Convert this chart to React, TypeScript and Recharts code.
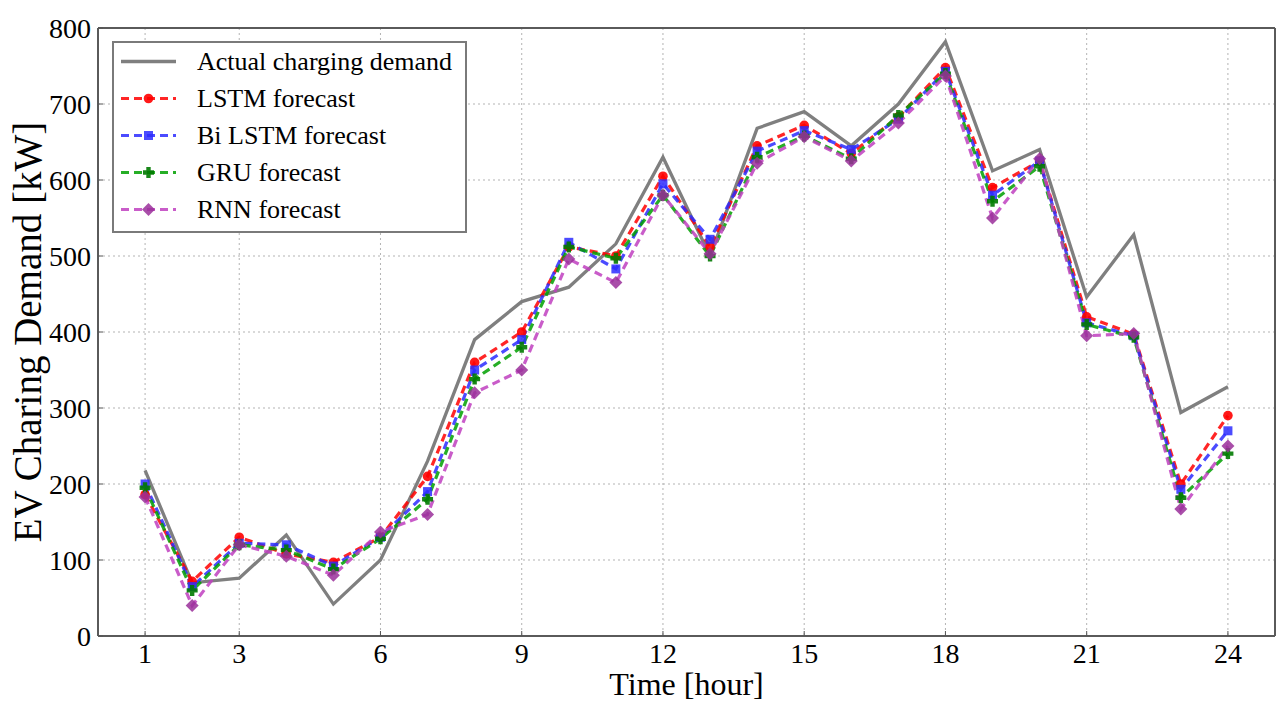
import { LineChart, Line, XAxis, YAxis, CartesianGrid, Legend, ReferenceLine } from 'recharts';

const hours = [1, 2, 3, 4, 5, 6, 7, 8, 9, 10, 11, 12, 13, 14, 15, 16, 17, 18, 19, 20, 21, 22, 23, 24];
const actual = [218, 70, 76, 133, 42, 100, 230, 390, 440, 459, 516, 630, 500, 668, 690, 645, 700, 782, 612, 640, 446, 528, 294, 328];
const lstm = [186, 72, 130, 108, 97, 130, 210, 360, 400, 512, 500, 605, 512, 645, 672, 635, 683, 748, 590, 625, 420, 397, 200, 290];
const biLstm = [200, 65, 122, 120, 92, 130, 190, 350, 390, 518, 483, 595, 522, 638, 665, 640, 680, 743, 580, 625, 412, 395, 193, 270];
const gru = [195, 60, 120, 113, 88, 128, 180, 338, 380, 512, 497, 580, 500, 630, 658, 628, 685, 740, 572, 618, 410, 393, 182, 240];
const rnn = [183, 40, 120, 105, 80, 137, 160, 320, 350, 496, 465, 580, 503, 622, 657, 625, 675, 737, 550, 628, 395, 398, 167, 250];

const xTicks = [1, 3, 6, 9, 12, 15, 18, 21, 24];
const yTicks = [0, 100, 200, 300, 400, 500, 600, 700, 800];

const data = hours.map((hour, i) => ({
  hour,
  actual: actual[i],
  lstm: lstm[i],
  bilstm: biLstm[i],
  gru: gru[i],
  rnn: rnn[i],
}));

const FONT = '"Liberation Serif", "Times New Roman", serif';

type Kind = 'circle' | 'square' | 'plus' | 'diamond';

const forecasts: { key: string; name: string; line: string; fill: string; kind: Kind }[] = [
  { key: 'lstm', name: 'LSTM forecast', line: '#ff0000', fill: '#ff0000', kind: 'circle' },
  { key: 'bilstm', name: 'Bi LSTM forecast', line: '#2b2bff', fill: '#2b2bff', kind: 'square' },
  { key: 'gru', name: 'GRU forecast', line: '#00a000', fill: '#007a00', kind: 'plus' },
  { key: 'rnn', name: 'RNN forecast', line: '#c040c0', fill: '#9a2f9a', kind: 'diamond' },
];

const Marker = ({ kind, x, y, fill }: { kind: Kind; x: number; y: number; fill: string }) => {
  if (kind === 'circle') return <circle cx={x} cy={y} r={4.8} fill={fill} fillOpacity={0.9} />;
  if (kind === 'square') return <rect x={x - 4.5} y={y - 4.5} width={9} height={9} fill={fill} fillOpacity={0.85} />;
  if (kind === 'plus') {
    const a = 5.5;
    const t = 2.2;
    const d = `M${x - t},${y - a}H${x + t}V${y - t}H${x + a}V${y + t}H${x + t}V${y + a}H${x - t}V${y + t}H${x - a}V${y - t}H${x - t}Z`;
    return <path d={d} fill={fill} fillOpacity={0.9} />;
  }
  const r = 6.5;
  return <polygon points={`${x},${y - r} ${x + r},${y} ${x},${y + r} ${x - r},${y}`} fill={fill} fillOpacity={0.85} />;
};

const makeDot = (kind: Kind, fill: string) => (p: any) => {
  if (p.cx == null || p.cy == null) return <g key={`e-${kind}-${p.index}`} />;
  return (
    <g key={`${kind}-${p.index}`}>
      <Marker kind={kind} x={p.cx} y={p.cy} fill={fill} />
    </g>
  );
};

const XTick = (props: any) => {
  const { x, y, payload } = props;
  const axisY = y - 6;
  return (
    <g>
      <line x1={x} x2={x} y1={axisY} y2={axisY - 5} stroke="#555" strokeWidth={1} />
      <text x={x} y={y} dy="0.74em" textAnchor="middle" fontFamily={FONT} fontSize={28} fill="#000">
        {payload.value}
      </text>
    </g>
  );
};

const YTick = (props: any) => {
  const { x, y, payload } = props;
  const axisX = x + 7;
  return (
    <g>
      <line x1={axisX} x2={axisX + 5} y1={y} y2={y} stroke="#555" strokeWidth={1} />
      <text x={x} y={y} dy="0.36em" textAnchor="end" fontFamily={FONT} fontSize={28} fill="#000">
        {payload.value}
      </text>
    </g>
  );
};

const renderLegend = () => (
  <div
    style={{
      border: '2px solid #7a7a7a',
      background: '#fff',
      width: 351,
      height: 188,
      fontFamily: FONT,
      boxSizing: 'content-box',
    }}
  >
    <div style={{ display: 'flex', alignItems: 'center', height: 37 }}>
      <svg width={83} height={37}>
        <line x1={7} x2={62} y1={18.5} y2={18.5} stroke="#7f7f7f" strokeWidth={3.3} />
      </svg>
      <span style={{ fontSize: 26, lineHeight: '37px', color: '#000' }}>Actual charging demand</span>
    </div>
    {forecasts.map((s) => (
      <div key={s.key} style={{ display: 'flex', alignItems: 'center', height: 37 }}>
        <svg width={83} height={37}>
          <line
            x1={7}
            x2={62}
            y1={18.5}
            y2={18.5}
            stroke={s.line}
            strokeWidth={3.2}
            strokeDasharray="8 5"
            strokeOpacity={0.85}
          />
          <Marker kind={s.kind} x={34.5} y={18.5} fill={s.fill} />
        </svg>
        <span style={{ fontSize: 26, lineHeight: '37px', color: '#000' }}>{s.name}</span>
      </div>
    ))}
  </div>
);

export default function App() {
  return (
    <div style={{ position: 'absolute', left: 0, top: 0, background: '#fff' }}>
      <LineChart width={1276} height={702} data={data} margin={{ top: 28, right: 1, bottom: 0, left: 0 }}>
        <CartesianGrid stroke="#b3b3b3" strokeDasharray="2 3" />
        <XAxis
          dataKey="hour"
          type="number"
          domain={[0, 25]}
          ticks={xTicks}
          height={66}
          tickSize={0}
          tickMargin={6}
          tickLine={false}
          axisLine={{ stroke: '#5a5a5a', strokeWidth: 2 }}
          tick={<XTick />}
          label={{
            value: 'Time [hour]',
            position: 'insideBottom',
            offset: 7,
            style: { fontFamily: FONT, fontSize: 32, fill: '#000' },
          }}
        />
        <YAxis
          type="number"
          domain={[0, 800]}
          ticks={yTicks}
          width={98}
          tickSize={0}
          tickMargin={7}
          tickLine={false}
          axisLine={{ stroke: '#5a5a5a', strokeWidth: 2 }}
          tick={<YTick />}
          label={{
            value: 'EV Charing Demand [kW]',
            angle: -90,
            position: 'insideLeft',
            offset: 27,
            style: { textAnchor: 'middle', fontFamily: FONT, fontSize: 39, fill: '#000' },
          }}
        />
        <ReferenceLine y={800} stroke="#5a5a5a" strokeWidth={2} />
        <ReferenceLine x={25} stroke="#5a5a5a" strokeWidth={2} />
        <Legend
          layout="horizontal"
          verticalAlign="middle"
          align="center"
          content={renderLegend}
          wrapperStyle={{ left: 112, top: 41, width: 'auto', height: 'auto' }}
        />
        <Line
          dataKey="actual"
          name="Actual charging demand"
          stroke="#7f7f7f"
          strokeWidth={3.3}
          dot={false}
          activeDot={false}
          isAnimationActive={false}
        />
        {forecasts.map((s) => (
          <Line
            key={s.key}
            dataKey={s.key}
            name={s.name}
            stroke={s.line}
            strokeWidth={3.2}
            strokeDasharray="8 5"
            strokeOpacity={0.85}
            dot={makeDot(s.kind, s.fill)}
            activeDot={false}
            isAnimationActive={false}
          />
        ))}
      </LineChart>
    </div>
  );
}
